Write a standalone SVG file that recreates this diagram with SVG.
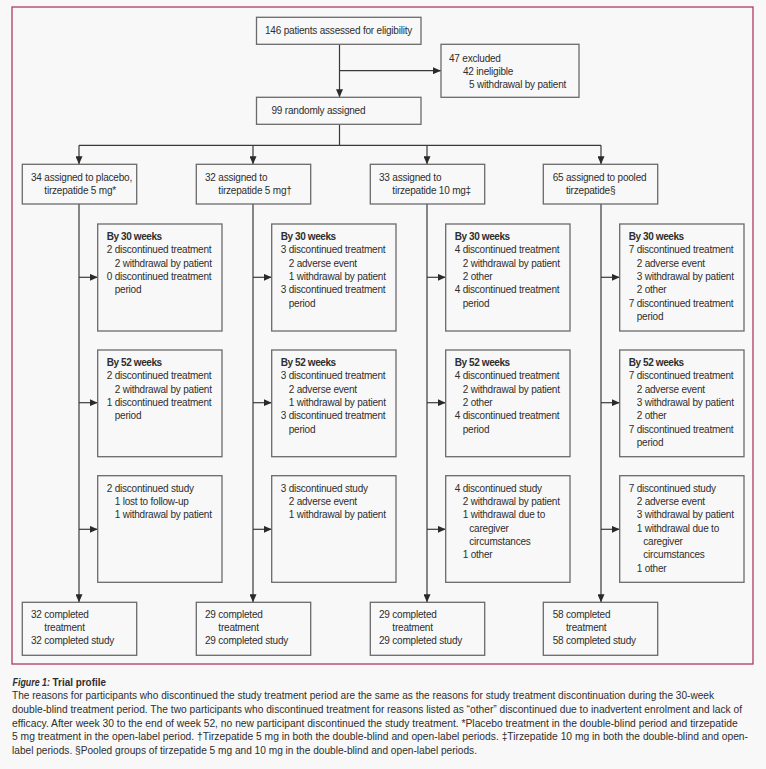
<svg xmlns="http://www.w3.org/2000/svg" width="766" height="769" viewBox="0 0 766 769">
<defs>
<style>
.bg{fill:#f8f8f8}
.frame{fill:none;stroke:#b03a63;stroke-width:1.3}
.box{fill:#f8f8f8;stroke:#6a6a6a;stroke-width:1.3}
.ln{fill:none;stroke:#3a3a3a;stroke-width:1.2}
.t{font-family:"Liberation Sans",Arial,sans-serif;font-size:10px;fill:#2e2e2e;letter-spacing:-0.2px}
.b{font-weight:bold;letter-spacing:-0.4px}
.cap{font-family:"Liberation Sans",Arial,sans-serif;font-size:10px;fill:#2e2e2e}
</style>
<marker id="ah" markerWidth="8" markerHeight="7" refX="8" refY="3.5" orient="auto" markerUnits="userSpaceOnUse">
<path d="M0,0 L8,3.5 L0,7 z" fill="#2a2a2a"/>
</marker>
</defs>
<rect class="bg" x="0" y="0" width="766" height="769"/>
<rect class="frame" x="12" y="7" width="741" height="657"/>

<g id="connectors">
<path class="ln" d="M339.5,44.3 V97.3" marker-end="url(#ah)"/>
<path class="ln" d="M339.5,70.7 H441" marker-end="url(#ah)"/>
<path class="ln" d="M339.5,124.3 V145.3 M79,145.3 H601"/>
<path class="ln" d="M79,145.3 V164.3" marker-end="url(#ah)"/>
<path class="ln" d="M253,145.3 V164.3" marker-end="url(#ah)"/>
<path class="ln" d="M427,145.3 V164.3" marker-end="url(#ah)"/>
<path class="ln" d="M601,145.3 V164.3" marker-end="url(#ah)"/>
<path class="ln" d="M79,204 V602.3" marker-end="url(#ah)"/>
<path class="ln" d="M253,204 V602.3" marker-end="url(#ah)"/>
<path class="ln" d="M427,204 V602.3" marker-end="url(#ah)"/>
<path class="ln" d="M601,204 V602.3" marker-end="url(#ah)"/>
<path class="ln" d="M79,277.3 H97.7" marker-end="url(#ah)"/>
<path class="ln" d="M253,277.3 H271.7" marker-end="url(#ah)"/>
<path class="ln" d="M427,277.3 H445.7" marker-end="url(#ah)"/>
<path class="ln" d="M601,277.3 H619.7" marker-end="url(#ah)"/>
<path class="ln" d="M79,402.7 H97.7" marker-end="url(#ah)"/>
<path class="ln" d="M253,402.7 H271.7" marker-end="url(#ah)"/>
<path class="ln" d="M427,402.7 H445.7" marker-end="url(#ah)"/>
<path class="ln" d="M601,402.7 H619.7" marker-end="url(#ah)"/>
<path class="ln" d="M79,529.3 H97.7" marker-end="url(#ah)"/>
<path class="ln" d="M253,529.3 H271.7" marker-end="url(#ah)"/>
<path class="ln" d="M427,529.3 H445.7" marker-end="url(#ah)"/>
<path class="ln" d="M601,529.3 H619.7" marker-end="url(#ah)"/>
</g>

<g id="assessed">
<rect class="box" x="256.5" y="17.3" width="164.5" height="27"/>
<text class="t" x="265" y="34">146 patients assessed for eligibility</text>
</g>
<g id="excluded">
<rect class="box" x="441" y="44.3" width="138" height="53"/>
<text class="t" x="449" y="61.5">47 excluded</text>
<text class="t" x="463" y="74.5">42 ineligible</text>
<text class="t" x="469" y="87.5">5 withdrawal by patient</text>
</g>
<g id="randomised">
<rect class="box" x="256.5" y="97.3" width="164.5" height="27"/>
<text class="t" x="271.5" y="114">99 randomly assigned</text>
</g>

<!-- Column 1 -->
<g id="assigned-placebo" transform="translate(79,0)">
<rect class="box" x="-56.7" y="164.3" width="114.4" height="39.7"/>
<text class="t" x="-48" y="181">34 assigned to placebo,</text>
<text class="t" x="-34.7" y="194.3">tirzepatide 5 mg*</text>
</g>
<g id="w30-placebo" transform="translate(79,0)">
<rect class="box" x="18.7" y="224" width="124.3" height="107"/>
<text class="t b" x="27.7" y="240">By 30 weeks</text>
<text class="t" x="27.7" y="253.3">2 discontinued treatment</text>
<text class="t" x="35.7" y="266.7">2 withdrawal by patient</text>
<text class="t" x="27.7" y="280">0 discontinued treatment</text>
<text class="t" x="35.7" y="293.3">period</text>
</g>
<g id="w52-placebo" transform="translate(79,0)">
<rect class="box" x="18.7" y="350" width="124.3" height="106.7"/>
<text class="t b" x="27.7" y="366">By 52 weeks</text>
<text class="t" x="27.7" y="379.3">2 discontinued treatment</text>
<text class="t" x="35.7" y="392.7">2 withdrawal by patient</text>
<text class="t" x="27.7" y="406">1 discontinued treatment</text>
<text class="t" x="35.7" y="419.3">period</text>
</g>
<g id="study-placebo" transform="translate(79,0)">
<rect class="box" x="18.7" y="475.7" width="124.3" height="106.6"/>
<text class="t" x="27.7" y="491.7">2 discontinued study</text>
<text class="t" x="35.7" y="505">1 lost to follow-up</text>
<text class="t" x="35.7" y="518.3">1 withdrawal by patient</text>
</g>
<g id="completed-placebo" transform="translate(79,0)">
<rect class="box" x="-56.7" y="602.3" width="114.4" height="53"/>
<text class="t" x="-48" y="617.7">32 completed</text>
<text class="t" x="-34.7" y="631">treatment</text>
<text class="t" x="-48" y="644.3">32 completed study</text>
</g>

<!-- Column 2 -->
<g id="assigned-5mg" transform="translate(253,0)">
<rect class="box" x="-56.7" y="164.3" width="114.4" height="39.7"/>
<text class="t" x="-48" y="181">32 assigned to</text>
<text class="t" x="-34.7" y="194.3">tirzepatide 5 mg†</text>
</g>
<g id="w30-5mg" transform="translate(253,0)">
<rect class="box" x="18.7" y="224" width="124.3" height="107"/>
<text class="t b" x="27.7" y="240">By 30 weeks</text>
<text class="t" x="27.7" y="253.3">3 discontinued treatment</text>
<text class="t" x="35.7" y="266.7">2 adverse event</text>
<text class="t" x="35.7" y="280">1 withdrawal by patient</text>
<text class="t" x="27.7" y="293.3">3 discontinued treatment</text>
<text class="t" x="35.7" y="306.7">period</text>
</g>
<g id="w52-5mg" transform="translate(253,0)">
<rect class="box" x="18.7" y="350" width="124.3" height="106.7"/>
<text class="t b" x="27.7" y="366">By 52 weeks</text>
<text class="t" x="27.7" y="379.3">3 discontinued treatment</text>
<text class="t" x="35.7" y="392.7">2 adverse event</text>
<text class="t" x="35.7" y="406">1 withdrawal by patient</text>
<text class="t" x="27.7" y="419.3">3 discontinued treatment</text>
<text class="t" x="35.7" y="432.7">period</text>
</g>
<g id="study-5mg" transform="translate(253,0)">
<rect class="box" x="18.7" y="475.7" width="124.3" height="106.6"/>
<text class="t" x="27.7" y="491.7">3 discontinued study</text>
<text class="t" x="35.7" y="505">2 adverse event</text>
<text class="t" x="35.7" y="518.3">1 withdrawal by patient</text>
</g>
<g id="completed-5mg" transform="translate(253,0)">
<rect class="box" x="-56.7" y="602.3" width="114.4" height="53"/>
<text class="t" x="-48" y="617.7">29 completed</text>
<text class="t" x="-34.7" y="631">treatment</text>
<text class="t" x="-48" y="644.3">29 completed study</text>
</g>

<!-- Column 3 -->
<g id="assigned-10mg" transform="translate(427,0)">
<rect class="box" x="-56.7" y="164.3" width="114.4" height="39.7"/>
<text class="t" x="-48" y="181">33 assigned to</text>
<text class="t" x="-34.7" y="194.3">tirzepatide 10 mg‡</text>
</g>
<g id="w30-10mg" transform="translate(427,0)">
<rect class="box" x="18.7" y="224" width="124.3" height="107"/>
<text class="t b" x="27.7" y="240">By 30 weeks</text>
<text class="t" x="27.7" y="253.3">4 discontinued treatment</text>
<text class="t" x="35.7" y="266.7">2 withdrawal by patient</text>
<text class="t" x="35.7" y="280">2 other</text>
<text class="t" x="27.7" y="293.3">4 discontinued treatment</text>
<text class="t" x="35.7" y="306.7">period</text>
</g>
<g id="w52-10mg" transform="translate(427,0)">
<rect class="box" x="18.7" y="350" width="124.3" height="106.7"/>
<text class="t b" x="27.7" y="366">By 52 weeks</text>
<text class="t" x="27.7" y="379.3">4 discontinued treatment</text>
<text class="t" x="35.7" y="392.7">2 withdrawal by patient</text>
<text class="t" x="35.7" y="406">2 other</text>
<text class="t" x="27.7" y="419.3">4 discontinued treatment</text>
<text class="t" x="35.7" y="432.7">period</text>
</g>
<g id="study-10mg" transform="translate(427,0)">
<rect class="box" x="18.7" y="475.7" width="124.3" height="106.6"/>
<text class="t" x="27.7" y="491.7">4 discontinued study</text>
<text class="t" x="35.7" y="505">2 withdrawal by patient</text>
<text class="t" x="35.7" y="518.3">1 withdrawal due to</text>
<text class="t" x="42.3" y="531.7">caregiver</text>
<text class="t" x="42.3" y="545">circumstances</text>
<text class="t" x="35.7" y="558.3">1 other</text>
</g>
<g id="completed-10mg" transform="translate(427,0)">
<rect class="box" x="-56.7" y="602.3" width="114.4" height="53"/>
<text class="t" x="-48" y="617.7">29 completed</text>
<text class="t" x="-34.7" y="631">treatment</text>
<text class="t" x="-48" y="644.3">29 completed study</text>
</g>

<!-- Column 4 -->
<g id="assigned-pooled" transform="translate(601,0)">
<rect class="box" x="-57.7" y="164.3" width="114.4" height="39.7"/>
<text class="t" x="-48.3" y="181">65 assigned to pooled</text>
<text class="t" x="-35" y="194.3">tirzepatide§</text>
</g>
<g id="w30-pooled" transform="translate(601,0)">
<rect class="box" x="18.7" y="224" width="124.3" height="107"/>
<text class="t b" x="27.7" y="240">By 30 weeks</text>
<text class="t" x="27.7" y="253.3">7 discontinued treatment</text>
<text class="t" x="35.7" y="266.7">2 adverse event</text>
<text class="t" x="35.7" y="280">3 withdrawal by patient</text>
<text class="t" x="35.7" y="293.3">2 other</text>
<text class="t" x="27.7" y="306.7">7 discontinued treatment</text>
<text class="t" x="35.7" y="320">period</text>
</g>
<g id="w52-pooled" transform="translate(601,0)">
<rect class="box" x="18.7" y="350" width="124.3" height="106.7"/>
<text class="t b" x="27.7" y="366">By 52 weeks</text>
<text class="t" x="27.7" y="379.3">7 discontinued treatment</text>
<text class="t" x="35.7" y="392.7">2 adverse event</text>
<text class="t" x="35.7" y="406">3 withdrawal by patient</text>
<text class="t" x="35.7" y="419.3">2 other</text>
<text class="t" x="27.7" y="432.7">7 discontinued treatment</text>
<text class="t" x="35.7" y="446">period</text>
</g>
<g id="study-pooled" transform="translate(601,0)">
<rect class="box" x="18.7" y="475.7" width="124.3" height="106.6"/>
<text class="t" x="27.7" y="491.7">7 discontinued study</text>
<text class="t" x="35.7" y="505">2 adverse event</text>
<text class="t" x="35.7" y="518.3">3 withdrawal by patient</text>
<text class="t" x="35.7" y="531.7">1 withdrawal due to</text>
<text class="t" x="42.3" y="545">caregiver</text>
<text class="t" x="42.3" y="558.3">circumstances</text>
<text class="t" x="35.7" y="571.7">1 other</text>
</g>
<g id="completed-pooled" transform="translate(601,0)">
<rect class="box" x="-57.7" y="602.3" width="114.4" height="53"/>
<text class="t" x="-48.3" y="617.7">58 completed</text>
<text class="t" x="-35" y="631">treatment</text>
<text class="t" x="-48.3" y="644.3">58 completed study</text>
</g>

<g id="caption">
<text class="cap" x="12.5" y="686" font-weight="bold" font-style="italic" textLength="37.5" lengthAdjust="spacingAndGlyphs">Figure 1:</text>
<text class="cap" x="52.5" y="686" font-weight="bold" textLength="53.5" lengthAdjust="spacingAndGlyphs">Trial profile</text>
<text class="cap" x="12" y="699.3" textLength="702" lengthAdjust="spacingAndGlyphs">The reasons for participants who discontinued the study treatment period are the same as the reasons for study treatment discontinuation during the 30-week</text>
<text class="cap" x="12" y="713" textLength="730" lengthAdjust="spacingAndGlyphs">double-blind treatment period. The two participants who discontinued treatment for reasons listed as “other” discontinued due to inadvertent enrolment and lack of</text>
<text class="cap" x="12" y="726.7" textLength="725.6" lengthAdjust="spacingAndGlyphs">efficacy. After week 30 to the end of week 52, no new participant discontinued the study treatment. *Placebo treatment in the double-blind period and tirzepatide</text>
<text class="cap" x="12" y="740.3" textLength="736" lengthAdjust="spacingAndGlyphs">5 mg treatment in the open-label period. †Tirzepatide 5 mg in both the double-blind and open-label periods. ‡Tirzepatide 10 mg in both the double-blind and open-</text>
<text class="cap" x="12" y="754" textLength="465" lengthAdjust="spacingAndGlyphs">label periods. §Pooled groups of tirzepatide 5 mg and 10 mg in the double-blind and open-label periods.</text>
</g>
</svg>
